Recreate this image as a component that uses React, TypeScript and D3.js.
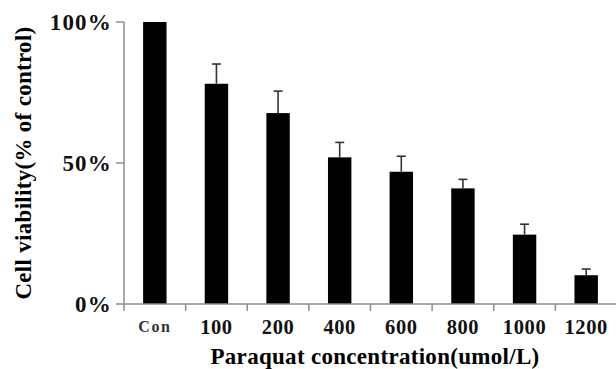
import React from "react";
import * as d3 from "d3";

const categories = ["Con", "100", "200", "400", "600", "800", "1000", "1200"];
const viability = [100, 78.1, 67.7, 52.0, 46.9, 41.0, 24.6, 10.2];
const errorUpper = [0, 7.0, 7.8, 5.3, 5.5, 3.2, 3.7, 2.2];
const yTicks = [0, 50, 100];
const yTickLabels = ["0%", "50%", "100%"];

const W = 616;
const H = 369;
const axisColor = "#8c8c8c";
const serif = "'Liberation Serif', 'Times New Roman', serif";

export default function App() {
  const x = d3
    .scaleBand<string>()
    .domain(categories)
    .range([124, 617])
    .paddingInner(0.62)
    .paddingOuter(0.31);
  const y = d3.scaleLinear().domain([0, 100]).range([304, 22]);
  const step = x.step();
  const x0 = 124;

  return (
    <svg
      width={W}
      height={H}
      style={{ position: "absolute", left: 0, top: 0, background: "#fff" }}
      fontFamily={serif}
    >
      {/* bars */}
      {categories.map((c, i) => (
        <rect
          key={c}
          x={x(c)}
          y={y(viability[i])}
          width={x.bandwidth()}
          height={y(0) - y(viability[i])}
          fill="#000"
        />
      ))}
      {/* error bars */}
      {categories.map((c, i) => {
        if (!errorUpper[i]) return null;
        const cx = (x(c) as number) + x.bandwidth() / 2;
        const yt = y(viability[i] + errorUpper[i]);
        return (
          <g key={"e" + c} stroke="#333" strokeWidth={1.6}>
            <line x1={cx} x2={cx} y1={y(viability[i])} y2={yt} />
            <line x1={cx - 4.5} x2={cx + 4.5} y1={yt} y2={yt} />
          </g>
        );
      })}
      {/* y axis */}
      <line x1={x0} x2={x0} y1={y(100)} y2={y(0)} stroke={axisColor} strokeWidth={1.5} />
      {yTicks.map((t, i) => (
        <g key={"yt" + t}>
          <line x1={x0 - 8} x2={x0} y1={y(t)} y2={y(t)} stroke={axisColor} strokeWidth={1.5} />
          <text
            x={112}
            y={y(t)}
            dy="0.35em"
            textAnchor="end"
            fontSize={23}
            fontWeight="bold"
            letterSpacing={1.2}
            fill="#111"
          >
            {yTickLabels[i]}
          </text>
        </g>
      ))}
      {/* x axis */}
      <line x1={x0} x2={W} y1={y(0)} y2={y(0)} stroke={axisColor} strokeWidth={1.5} />
      {categories.map((c, i) => (
        <line
          key={"xt" + c}
          x1={x0 + i * step}
          x2={x0 + i * step}
          y1={y(0)}
          y2={y(0) + 7}
          stroke={axisColor}
          strokeWidth={1.5}
        />
      ))}
      {categories.map((c, i) => (
        <text
          key={"xl" + c}
          x={(x(c) as number) + x.bandwidth() / 2}
          y={i === 0 ? 332 : 334}
          textAnchor="middle"
          fontSize={i === 0 ? 16 : 20.5}
          fontWeight="bold"
          letterSpacing={i === 0 ? 1.5 : 0.6}
          fill={i === 0 ? "#333" : "#111"}
        >
          {c}
        </text>
      ))}
      {/* axis titles */}
      <text
        x={375}
        y={364}
        textAnchor="middle"
        fontSize={23}
        fontWeight="bold"
        letterSpacing={0.3}
        fill="#000"
      >
        Paraquat concentration(umol/L)
      </text>
      <text
        transform="translate(31,163) rotate(-90)"
        textAnchor="middle"
        fontSize={23}
        fontWeight="bold"
        letterSpacing={0.3}
        fill="#000"
      >
        Cell viability(% of control)
      </text>
    </svg>
  );
}
